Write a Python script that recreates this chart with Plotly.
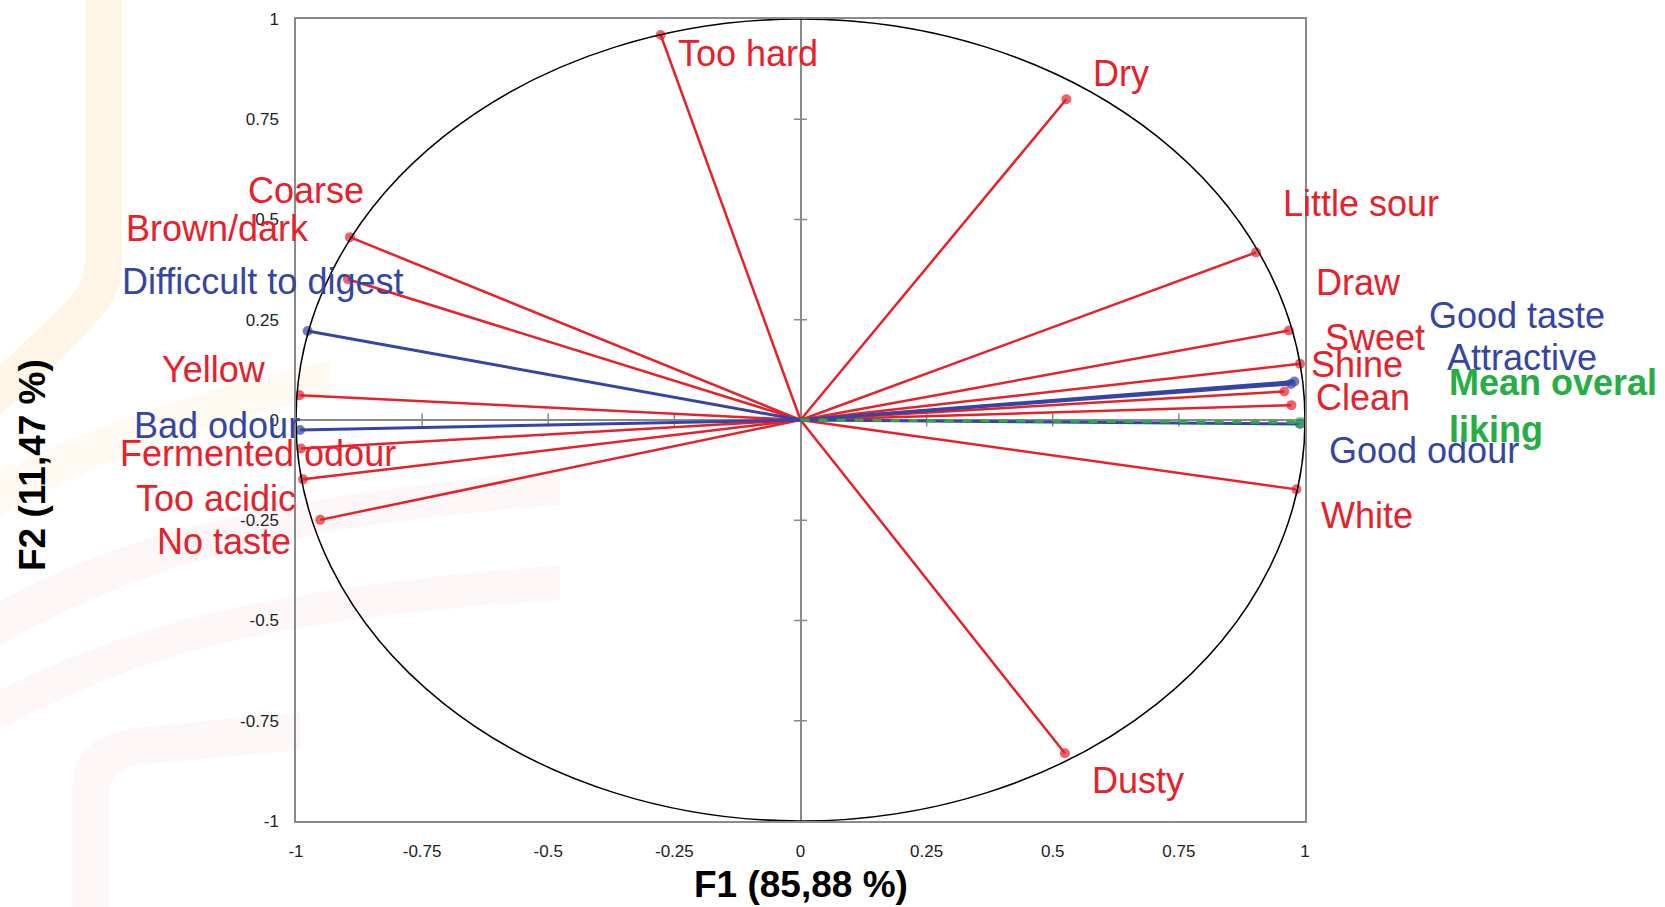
import plotly.graph_objects as go

# ---------------- data ----------------
variables = ["Too hard", "Dry", "Coarse", "Brown/dark", "Difficcult to digest", "Yellow",
             "Bad odour", "Fermented odour", "Too acidic", "No taste", "Little sour", "Draw",
             "Sweet", "Good taste", "Attractive", "Shine", "Clean", "Good odour",
             "Mean overal liking", "White", "Dusty"]
f1 = [-0.277, 0.527, -0.893, -0.897, -0.977, -0.993, -0.992, -0.990, -0.986, -0.952, 0.903, 0.968,
      0.990, 0.979, 0.972, 0.959, 0.973, 0.990, 0.993, 0.983, 0.524]
f2 = [0.960, 0.800, 0.456, 0.351, 0.222, 0.062, -0.025, -0.071, -0.148, -0.249, 0.418, 0.223,
      0.140, 0.096, 0.090, 0.071, 0.037, -0.010, -0.006, -0.173, -0.831]
groups = ["sensory", "sensory", "sensory", "sensory", "hedonic", "sensory", "hedonic", "sensory",
          "sensory", "sensory", "sensory", "sensory", "sensory", "hedonic", "hedonic", "sensory",
          "sensory", "hedonic", "liking", "sensory", "sensory"]

tick_vals = [-1, -0.75, -0.5, -0.25, 0, 0.25, 0.5, 0.75, 1]
tick_text = ["-1", "-0.75", "-0.5", "-0.25", "0", "0.25", "0.5", "0.75", "1"]
x_title = "F1 (85,88 %)"
y_title = "F2 (11,47 %)"

# ---------------- styling ----------------
W, H = 1665, 907
L, R, T, B = 296, 1305, 19, 821          # plot area in page pixels
FONT = "Liberation Sans, Arial, Helvetica, sans-serif"
COLORS = {"sensory": "#e8202a", "hedonic": "#3545a6", "liking": "#26ad46"}

# label placement: (dx px, dy px up, xanchor)
label_pos = {
    "Too hard": (15, -18, "left"), "Dry": (25, 26, "left"),
    "Coarse": (-44, 47, "center"), "Brown/dark": (-130, 51, "center"),
    "Difficcult to digest": (-45, 49, "center"), "Yellow": (-86, 26, "center"),
    "Bad odour": (-83, 5, "center"), "Fermented odour": (-43, -5, "center"),
    "Too acidic": (-87, -19, "center"), "No taste": (-96, -22, "center"),
    "Little sour": (25, 49, "left"), "Draw": (25, 48, "left"), "Sweet": (23, 26, "left"),
    "Good taste": (133, 66, "left"), "Attractive": (154, 26, "left"),
    "Shine": (25, 27, "left"), "Clean": (23, 8, "left"), "Good odour": (27, -26, "left"),
    "Mean overal liking": (146, 16, "left"), "White": (23, -26, "left"), "Dusty": (25, -27, "left"),
}

fig = go.Figure()

# ---- faint watermark (page-pixel paths converted to paper coords) ----
def px_path(cmds):
    out = []
    for c in cmds:
        if isinstance(c, str):
            out.append(c)
        else:
            px, py = c
            out.append(f"{(px - L) / (R - L):.4f},{(B - py) / (B - T):.4f}")
    return " ".join(out)

watermarks = [
    ("rgba(247,185,80,0.14)", ["M", (85, 0), "L", (122, 0), "L", (122, 262), "C", (122, 300), (100, 320), (60, 360),
                               "L", (0, 415), "L", (0, 365), "L", (50, 318), "C", (80, 290), (85, 280), (85, 255), "Z"]),
    ("rgba(247,185,80,0.08)", ["M", (0, 470), "C", (110, 420), (200, 390), (330, 360), "L", (330, 395),
                               "C", (210, 420), (110, 455), (0, 515), "Z"]),
    ("rgba(232,90,90,0.05)", ["M", (0, 600), "C", (120, 540), (230, 500), (560, 470), "L", (560, 505),
                              "C", (240, 530), (130, 575), (0, 645), "Z"]),
    ("rgba(232,90,90,0.05)", ["M", (0, 690), "C", (120, 630), (240, 590), (560, 565), "L", (560, 600),
                              "C", (250, 620), (130, 660), (0, 730), "Z"]),
    ("rgba(232,90,90,0.05)", ["M", (72, 907), "L", (72, 790), "C", (72, 750), (95, 735), (135, 728),
                              "L", (300, 712), "L", (300, 750), "L", (145, 764), "C", (122, 767), (110, 775),
                              (110, 795), "L", (110, 907), "Z"]),
]
for col, cmds in watermarks:
    fig.add_shape(type="path", path=px_path(cmds), xref="paper", yref="paper",
                  fillcolor=col, line=dict(width=0), layer="below")

# ---- inner axis tick marks ----
inner_ticks = [v for v in tick_vals if v not in (-1, 0, 1)]
hx = 6.5 / ((R - L) / 2)
hy = 6.5 / ((B - T) / 2)
for v in inner_ticks:
    fig.add_shape(type="line", x0=v, x1=v, y0=-hy, y1=hy, line=dict(color="#8a8a8a", width=1.5), layer="below")
    fig.add_shape(type="line", x0=-hx, x1=hx, y0=v, y1=v, line=dict(color="#8a8a8a", width=1.5), layer="below")

# ---- correlation circle ----
fig.add_shape(type="circle", x0=-1, y0=-1, x1=1, y1=1, line=dict(color="black", width=1.5))

# ---- vectors ----
order = [i for i, g in enumerate(groups) if g == "sensory"] + \
        [i for i, g in enumerate(groups) if g == "hedonic"] + \
        [i for i, g in enumerate(groups) if g == "liking"]
for i in order:
    g = groups[i]
    col = COLORS[g]
    fig.add_trace(go.Scatter(
        x=[0, f1[i]], y=[0, f2[i]], mode="lines+markers",
        line=dict(color=col, width=2.5 if g == "sensory" else 3,
                  dash="dash" if g == "liking" else "solid"),
        marker=dict(size=[0, 10], color=col, line=dict(width=0),
                    symbol="square" if g == "liking" else "circle"),
        name=variables[i], showlegend=False, hoverinfo="skip"))

# ---- labels ----
for i, name in enumerate(variables):
    dx, dy, xa = label_pos[name]
    g = groups[i]
    text = name
    if name == "Mean overal liking":
        text = "<b>Mean overal<br>liking</b>"
    fig.add_annotation(x=f1[i], y=f2[i], xref="x", yref="y", text=text, showarrow=False,
                       xanchor=xa, yanchor="middle", xshift=dx, yshift=dy, align="left",
                       font=dict(family=FONT, size=36, color=COLORS[g]))

# ---- axis titles ----
fig.add_annotation(x=0.5, y=(B - 884) / (B - T), xref="paper", yref="paper", text=f"<b>{x_title}</b>",
                   showarrow=False, xanchor="center", yanchor="middle",
                   font=dict(family=FONT, size=37, color="black"))
fig.add_annotation(x=(32 - L) / (R - L), y=(B - 465) / (B - T), xref="paper", yref="paper",
                   text=f"<b>{y_title}</b>", textangle=-90, showarrow=False,
                   xanchor="center", yanchor="middle", font=dict(family=FONT, size=37, color="black"))

axis_common = dict(range=[-1, 1], tickvals=tick_vals, ticktext=tick_text, showgrid=False,
                   zeroline=True, zerolinecolor="#8a8a8a", zerolinewidth=1.5,
                   showline=True, mirror=True, linecolor="#8a8a8a", linewidth=1.5, automargin=False,
                   ticks="", tickfont=dict(family=FONT, size=17, color="#222222"), fixedrange=True)
fig.update_xaxes(**axis_common, ticklabelstandoff=14)
fig.update_yaxes(**axis_common, ticklabelstandoff=12)

fig.update_layout(width=W, height=H, margin=dict(l=L, r=W - R, t=T, b=H - B, pad=0, autoexpand=False),
                  paper_bgcolor="white", plot_bgcolor="rgba(0,0,0,0)", showlegend=False)

fig.write_html("out.html", config={"displayModeBar": False},
               post_script="document.body.style.margin='0px';document.body.style.overflow='hidden';")
